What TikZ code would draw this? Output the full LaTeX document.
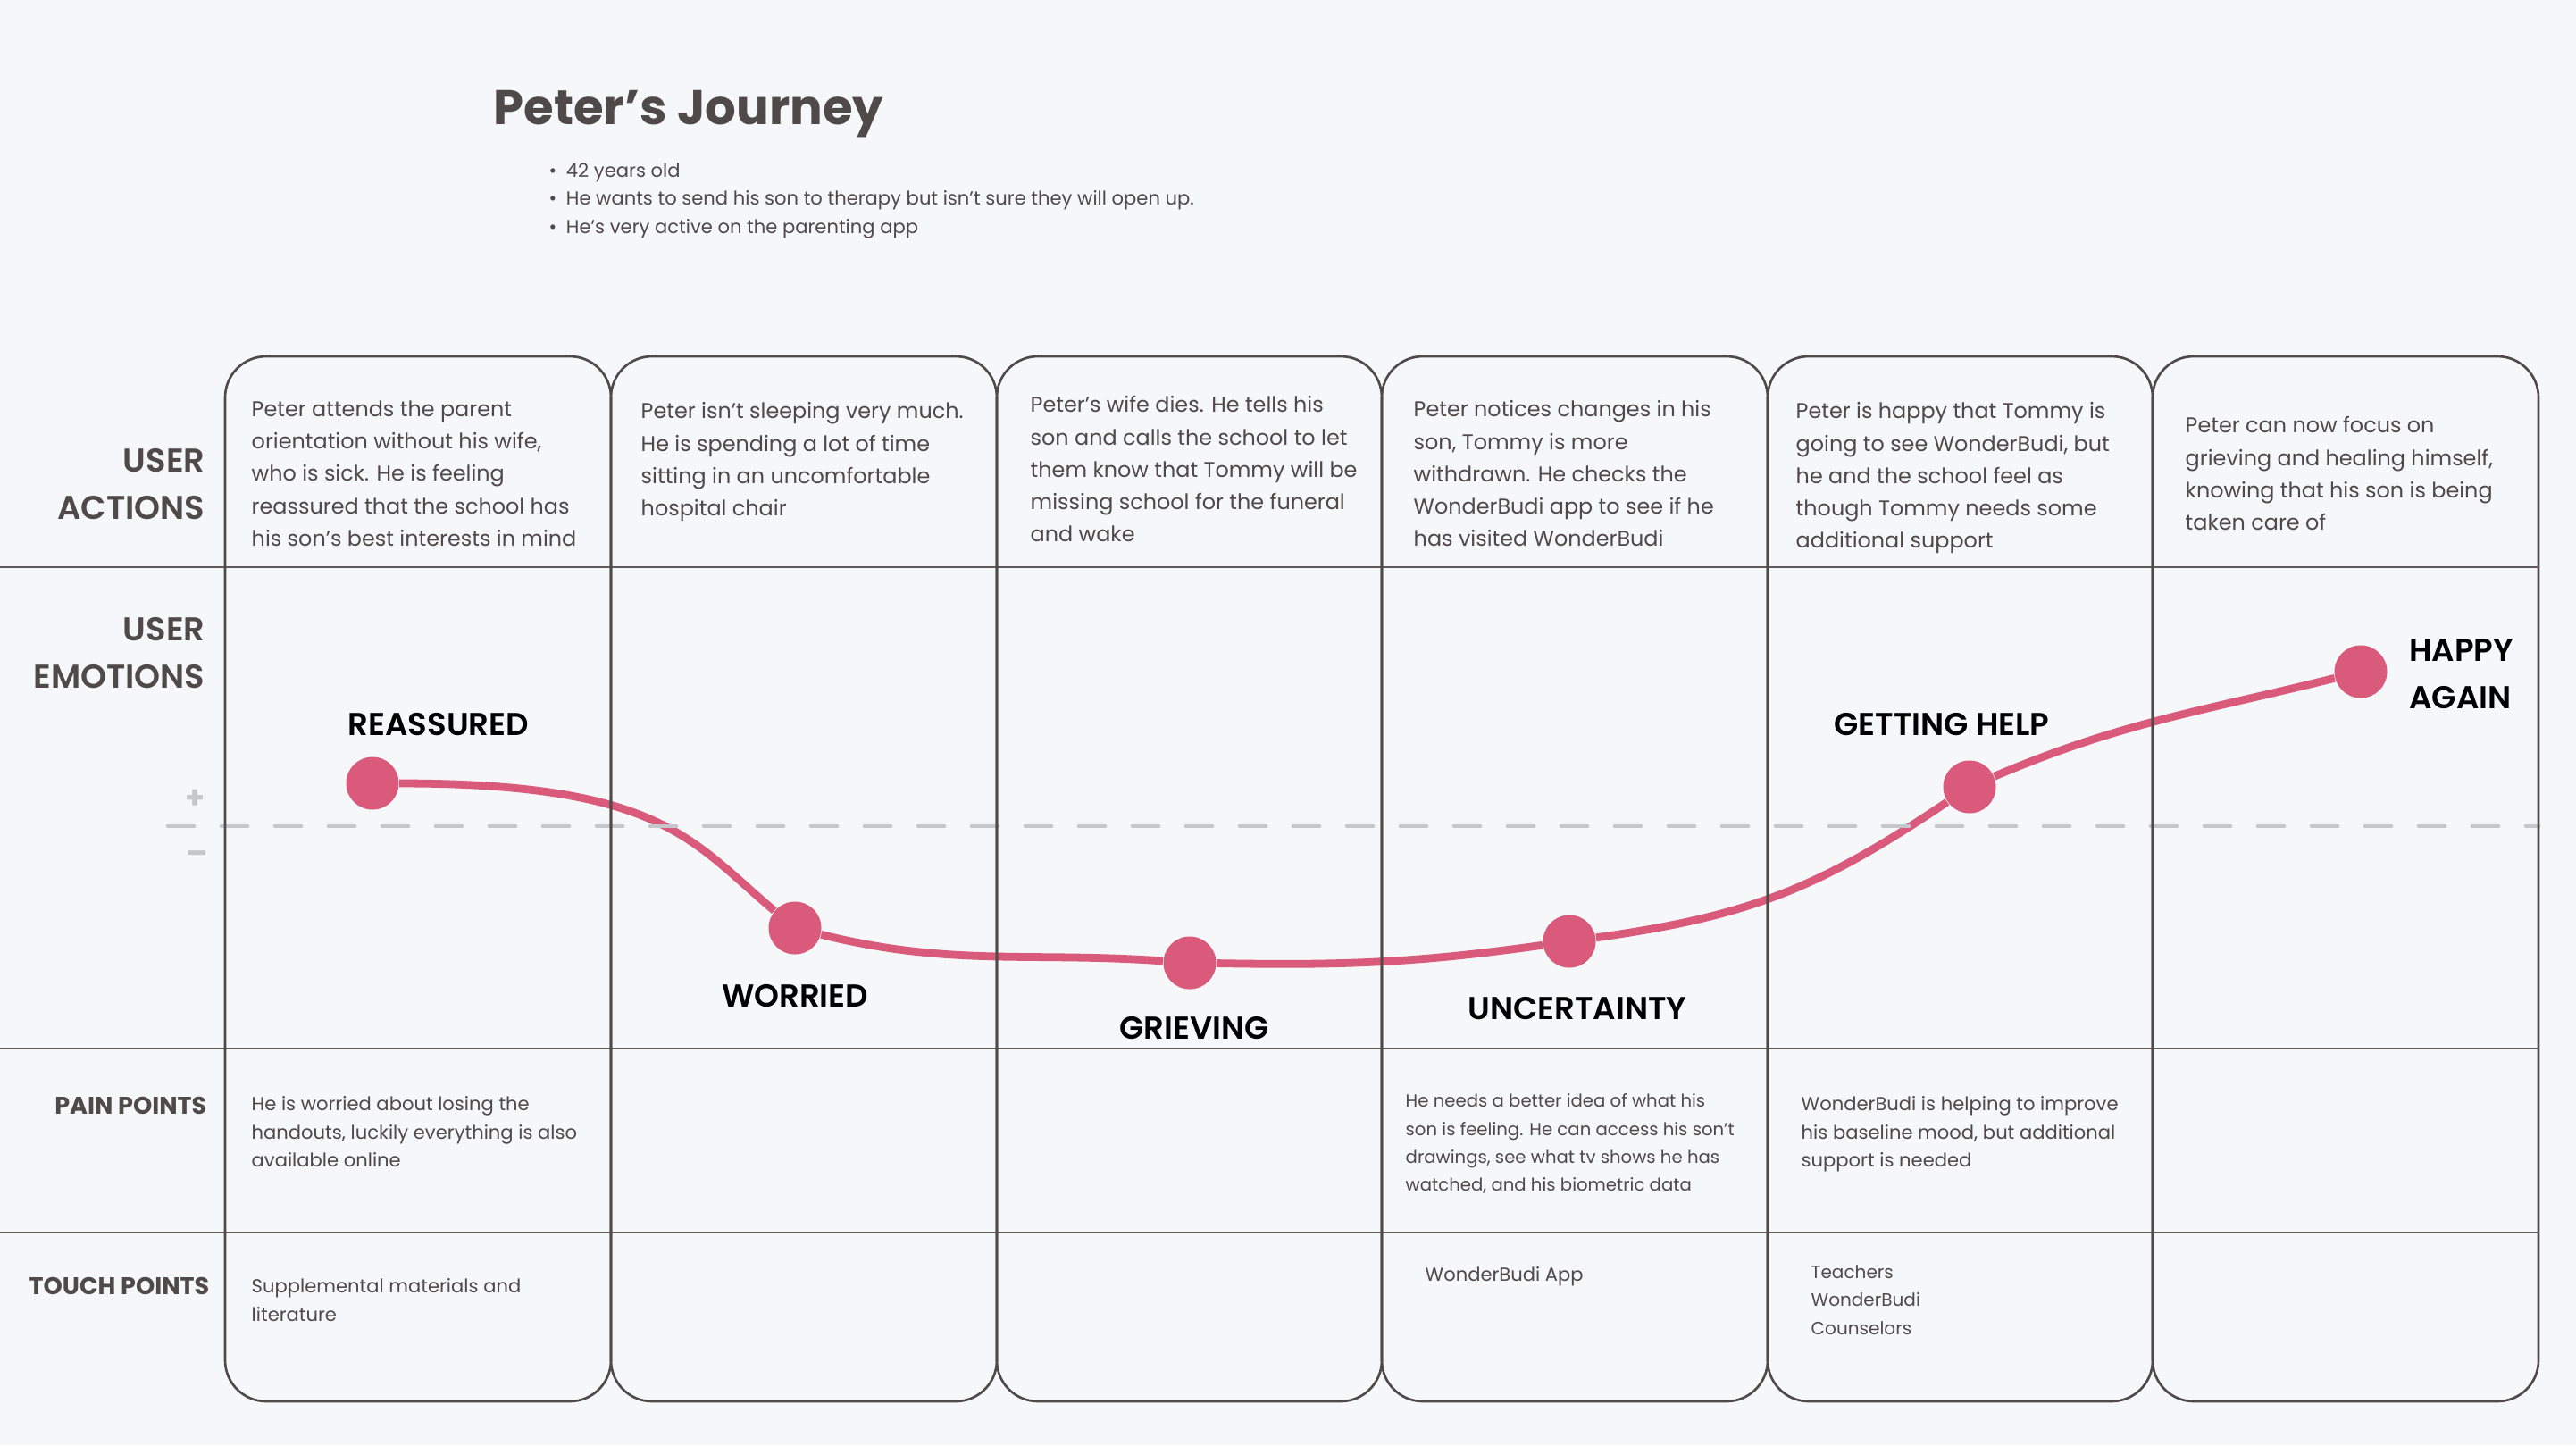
\documentclass[tikz,border=0pt]{standalone}
\usepackage{fontspec}
\setmainfont{Poppins}
\newfontfamily\semibold{Poppins SemiBold}
\usetikzlibrary{positioning}
\definecolor{paper}{HTML}{F5F7F9}
\definecolor{ink}{HTML}{4F4949}
\definecolor{rose}{HTML}{D95A7B}
\definecolor{mist}{HTML}{C6C7CA}

\begin{document}
\begin{tikzpicture}
    % Setup the styles
        \tikzset{column style/.style={draw=ink, line width=0.75pt, rounded corners=0.46cm},
                 row line/.style={draw=ink!90, line width=0.6pt},
                 zero line/.style={draw=mist, line width=1.4pt, line cap=round,
                                   dash pattern=on 0.29cm off 0.31cm},
                 mood dot/.style={circle, fill=rose, inner sep=0pt, minimum size=0.59cm},
                 mood curve/.style={draw=rose, line width=2.5pt},
                 mood label/.style={font=\semibold\fontsize{10.1}{15}\selectfont, text=black, align=left},
                 row title/.style={font=\semibold\fontsize{10.5}{15}\selectfont, text=ink,
                                   align=right, anchor=east, inner sep=0pt},
                 small title/.style={font=\bfseries\fontsize{7.7}{10}\selectfont, text=ink,
                                     anchor=east, inner sep=0pt},
                 action text/.style={font=\fontsize{6.8}{10.3}\selectfont, text=ink,
                                     align=left, anchor=north west, inner sep=0pt},
                 note text/.style={font=\fontsize{6.0}{8.9}\selectfont, text=ink,
                                   align=left, anchor=north west, inner sep=0pt}}
        % Background
        \fill[paper] (0,0) rectangle (28.84,-16.18);
        \useasboundingbox (0,0) rectangle (28.84,-16.18);
        % Title and persona
        \node[font=\bfseries\fontsize{15.5}{19}\selectfont, text=ink, anchor=west, inner sep=0pt]
            at (5.52,-1.28) (title) {Peter’s Journey};
        \node[font=\fontsize{6.0}{8.9}\selectfont, text=ink, align=left, anchor=west, inner sep=0pt]
            at (6.14,-2.25) (persona) {\textbullet\hspace{3pt}42 years old\\
            \textbullet\hspace{3pt}He wants to send his son to therapy but isn’t sure they will open up.\\
            \textbullet\hspace{3pt}He’s very active on the parenting app};
        % Row titles
        \node[row title] at (2.30,-5.42) (actions) {USER\\ACTIONS};
        \node[row title] at (2.30,-7.31) (emotions) {USER\\EMOTIONS};
        \node[small title] at (2.32,-12.38) (pains) {PAIN POINTS};
        \node[small title] at (2.35,-14.40) (touches) {TOUCH POINTS};
        \node[text=mist, font=\bfseries\fontsize{10}{10}\selectfont] at (2.19,-8.95) (plus) {+};
        \node[text=mist, font=\bfseries\fontsize{10}{10}\selectfont] at (2.21,-9.60) (minus) {–};
        % Draw the mood points
        \node[mood dot] at (4.17,-8.77)  (reassured) {};
        \node[mood dot] at (8.90,-10.39) (worried) {};
        \node[mood dot] at (13.32,-10.78) (grieving) {};
        \node[mood dot] at (17.57,-10.54) (uncertain) {};
        \node[mood dot] at (22.05,-8.81) (help) {};
        \node[mood dot] at (26.43,-7.52) (happy) {};
        % Connect the mood points
        \draw[mood curve]
        (reassured) to[out=0, in=140, out looseness=1.7, in looseness=0.7] (worried)
        (worried) to[out=-14, in=176] (grieving)
        (grieving) to[out=-1, in=188] (uncertain)
        (uncertain) to[out=8, in=214, looseness=1.05] (help)
        (help) to[out=23, in=194] (happy);
        \draw[zero line] (1.88,-9.25) -- (28.42,-9.25);
        % Draw the grid
        \foreach \y in {-6.35,-11.74,-13.80}
            \draw[row line] (0,\y) -- (28.42,\y);
        \foreach \xa/\xb in {2.52/6.84, 6.84/11.16, 11.16/15.47, 15.47/19.79, 19.79/24.10, 24.10/28.42}
            \draw[column style] (\xa,-3.99) rectangle (\xb,-15.69);
        % Mood labels
        \node[mood label] at (4.91,-8.11)  (reassuredtext) {REASSURED};
        \node[mood label] at (8.90,-11.15) (worriedtext) {WORRIED};
        \node[mood label] at (13.37,-11.51) (grievingtext) {GRIEVING};
        \node[mood label] at (17.66,-11.29) (uncertaintext) {UNCERTAINTY};
        \node[mood label] at (21.74,-8.11) (helptext) {GETTING HELP};
        \node[mood label, anchor=west] at (26.85,-7.55) (happytext) {HAPPY\\AGAIN};
        % User actions
        \node[action text] at (2.81,-4.48) (act1) {Peter attends the parent\\orientation without his wife,\\who is sick. He is feeling\\reassured that the school has\\his son’s best interests in mind};
        \node[action text] at (7.17,-4.50) (act2) {Peter isn’t sleeping very much.\\He is spending a lot of time\\sitting in an uncomfortable\\hospital chair};
        \node[action text] at (11.53,-4.43) (act3) {Peter’s wife dies. He tells his\\son and calls the school to let\\them know that Tommy will be\\missing school for the funeral\\and wake};
        \node[action text] at (15.82,-4.48) (act4) {Peter notices changes in his\\son, Tommy is more\\withdrawn. He checks the\\WonderBudi app to see if he\\has visited WonderBudi};
        \node[action text] at (20.10,-4.50) (act5) {Peter is happy that Tommy is\\going to see WonderBudi, but\\he and the school feel as\\though Tommy needs some\\additional support};
        \node[action text] at (24.46,-4.66) (act6) {Peter can now focus on\\grieving and healing himself,\\knowing that his son is being\\taken care of};
        % Pain points
        \node[note text] at (2.81,-12.27) (pain1) {He is worried about losing the\\handouts, luckily everything is also\\available online};
        \node[note text, font=\fontsize{5.6}{8.9}\selectfont] at (15.73,-12.24) (pain4) {He needs a better idea of what his\\son is feeling. He can access his son’t\\drawings, see what tv shows he has\\watched, and his biometric data};
        \node[note text] at (20.16,-12.27) (pain5) {WonderBudi is helping to improve\\his baseline mood, but additional\\support is needed};
        % Touch points
        \node[note text] at (2.81,-14.31) (touch1) {Supplemental materials and\\literature};
        \node[note text] at (15.95,-14.18) (touch4) {WonderBudi App};
        \node[note text, font=\fontsize{5.7}{8.9}\selectfont] at (20.27,-14.16) (touch5) {Teachers\\WonderBudi\\Counselors};
\end{tikzpicture}
\end{document}
